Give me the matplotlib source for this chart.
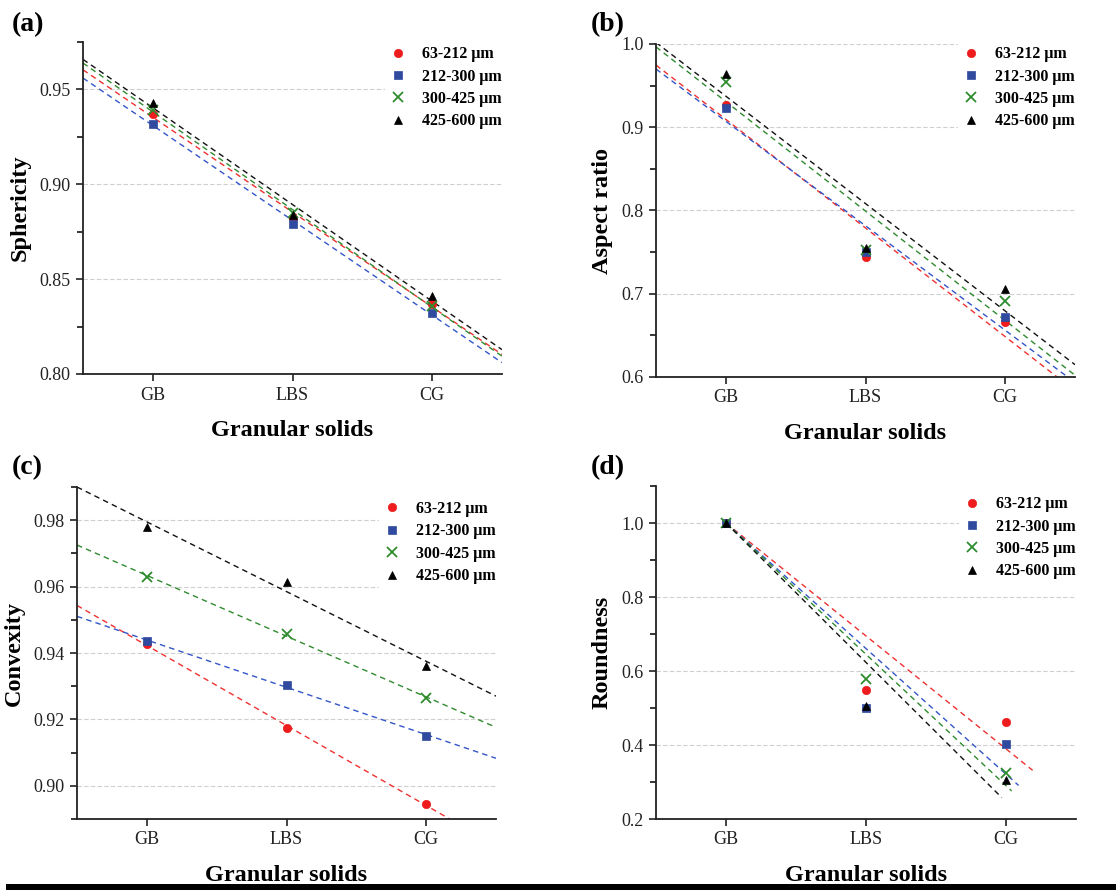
import numpy as np
import matplotlib
matplotlib.use('Agg')
import matplotlib.pyplot as plt
from matplotlib.ticker import MultipleLocator

solids = ['GB', 'LBS', 'CG']
size_labels = ['63-212 μm', '212-300 μm', '300-425 μm', '425-600 μm']

# values per size fraction, in order GB, LBS, CG
sphericity = [
    [0.937, 0.882, 0.837],
    [0.932, 0.879, 0.832],
    [0.939, 0.885, 0.836],
    [0.943, 0.884, 0.841],
]
aspect_ratio = [
    [0.927, 0.744, 0.666],
    [0.923, 0.750, 0.672],
    [0.954, 0.753, 0.691],
    [0.964, 0.755, 0.706],
]
convexity = [
    [0.9426, 0.9175, 0.8944],
    [0.9435, 0.9305, 0.9150],
    [0.9630, 0.9458, 0.9264],
    [0.9781, 0.9613, 0.9361],
]
roundness = [
    [1.0, 0.548, 0.463],
    [1.0, 0.499, 0.402],
    [1.0, 0.579, 0.323],
    [1.0, 0.506, 0.305],
]

colors = ['#ee1c1c', '#2f4a9e', '#2e8b2e', '#000000']
line_colors = ['#f03030', '#3355c8', '#2e8b2e', '#111111']
markers = ['o', 's', 'x', '^']
msizes = [6, 5.5, 7, 6]

FONT = 'Liberation Serif'
plt.rcParams['font.family'] = FONT

fig = plt.figure(figsize=(11.16, 8.9), dpi=100)

W, H = 1116., 890.


def box(left, top, right, bottom):
    return [left / W, 1 - bottom / H, (right - left) / W, (bottom - top) / H]


panels = [
    dict(tag='(a)', data=sphericity, ylabel='Sphericity', ylim=(0.80, 0.975),
         major=0.05, minor=0.025, fmt='{:.2f}', pos=box(83, 42, 502, 374),
         tagxy=(12, 12), fit='ls', leg=(1.01, 1.002)),
    dict(tag='(b)', data=aspect_ratio, ylabel='Aspect ratio', ylim=(0.60, 1.0),
         major=0.1, minor=0.05, fmt='{:.1f}', pos=box(656, 44, 1075, 377),
         tagxy=(591, 12), fit='ls', leg=(1.01, 1.008)),
    dict(tag='(c)', data=convexity, ylabel='Convexity', ylim=(0.89, 0.99),
         major=0.02, minor=0.01, fmt='{:.2f}', pos=box(77, 487, 496, 819),
         tagxy=(12, 455), fit='ls', leg=(1.01, 0.972)),
    dict(tag='(d)', data=roundness, ylabel='Roundness', ylim=(0.2, 1.1),
         major=0.2, minor=0.1, fmt='{:.1f}', pos=box(656, 486, 1076, 819),
         tagxy=(591, 455), fit='anchored', leg=(1.01, 0.984)),
]

# right end of the fitted lines in panel (d)
fit_end_d = [3.19, 3.09, 3.04, 2.97]

x = np.arange(1, len(solids) + 1)

for p in panels:
    ax = fig.add_axes(p['pos'])
    ax.set_xlim(0.5, 3.5)
    ax.set_ylim(*p['ylim'])
    ax.yaxis.set_major_locator(MultipleLocator(p['major']))
    ax.yaxis.set_minor_locator(MultipleLocator(p['minor']))
    ax.set_xticks(x)
    ax.set_xticklabels(solids)
    ax.yaxis.set_major_formatter(plt.FuncFormatter(lambda v, _, f=p['fmt']: f.format(v)))

    for s in ['top', 'right']:
        ax.spines[s].set_visible(False)
    for s in ['left', 'bottom']:
        ax.spines[s].set_linewidth(1.3)
        ax.spines[s].set_color('#222222')
    ax.tick_params(axis='both', which='major', direction='out', length=5,
                   width=1.2, labelsize=13, pad=4, colors='#222222')
    ax.tick_params(axis='y', which='minor', direction='out', length=4, width=1.1)
    ax.tick_params(axis='x', which='minor', bottom=False)

    ax.yaxis.grid(True, which='major', linestyle=(0, (4, 2)), color='#cfcfcf',
                  linewidth=0.8)
    ax.set_axisbelow(True)

    for i, ys in enumerate(p['data']):
        ys = np.array(ys)
        if p['fit'] == 'ls':
            k, b = np.polyfit(x, ys, 1)
            xf = np.array([0.5, 3.5])
            yf = k * xf + b
        else:
            k = np.sum((x - x[0]) * (ys - ys[0])) / np.sum((x - x[0]) ** 2)
            xf = np.array([x[0], fit_end_d[i]])
            yf = ys[0] + k * (xf - x[0])
        ax.plot(xf, yf, linestyle=(0, (4, 3)), color=line_colors[i], linewidth=1.0,
                zorder=2)
        ax.plot(x, ys, linestyle='none', marker=markers[i], color=colors[i],
                markersize=msizes[i], markeredgewidth=1.3 if markers[i] == 'x' else 0.5,
                label=size_labels[i], zorder=3)

    ax.set_xlabel('Granular solids', fontsize=17.5, fontweight='bold', labelpad=12)
    ax.set_ylabel(p['ylabel'], fontsize=17.5, fontweight='bold', labelpad=6)

    ax.legend(loc='upper right', bbox_to_anchor=p['leg'], frameon=True,
              fancybox=False, edgecolor='none', facecolor='white', framealpha=1,
              handlelength=1.0, handletextpad=1.0, labelspacing=0.4,
              borderpad=0.3, borderaxespad=0.0, numpoints=1,
              prop={'family': FONT, 'weight': 'bold', 'size': 11.5})

    fig.text(p['tagxy'][0] / W, 1 - p['tagxy'][1] / H, p['tag'], fontsize=20,
             fontweight='bold', va='top', ha='left')

# thick rule along the bottom edge
fig.add_artist(plt.Rectangle((6 / W, 0), 1 - 6 / W, 6 / H, transform=fig.transFigure,
                             color='black', lw=0))

fig.savefig('out.png', dpi=100)
